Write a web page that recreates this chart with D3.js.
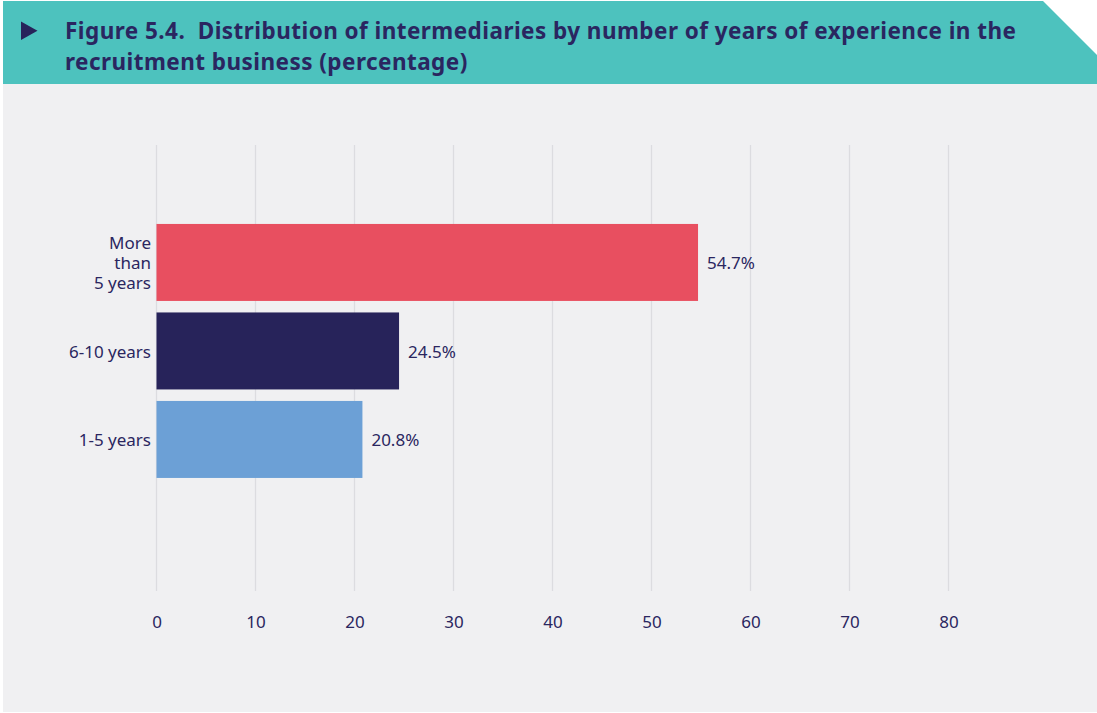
<!DOCTYPE html>
<html>
<head>
<meta charset="utf-8">
<script src="https://cdn.jsdelivr.net/npm/d3@7"></script>
<style>
  html, body { margin: 0; padding: 0; background: #ffffff; }
  svg { display: block; font-family: "Noto Sans", "Open Sans", sans-serif; }
  .title { white-space: pre; }
</style>
</head>
<body>
<svg id="chart" width="1097" height="713"></svg>
<script>
// Experience groups, top to bottom
const categories = ["More than 5 years", "6-10 years", "1-5 years"];
const categoryLines = [["More", "than", "5 years"], ["6-10 years"], ["1-5 years"]];
// Share of intermediaries (%)
const values = [54.7, 24.5, 20.8];
const barColors = ["#e84f60", "#27235a", "#6ca0d6"];
const xTicks = [0, 10, 20, 30, 40, 50, 60, 70, 80];

const titleLines = [
  "Figure 5.4.  Distribution of intermediaries by number of years of experience in the",
  "recruitment business (percentage)"
];

const svg = d3.select("#chart");
const ink = "#2a2660";
const labelSize = 17;

// Panel background
svg.append("rect").attr("x", 3).attr("y", 84).attr("width", 1094).attr("height", 628)
  .attr("fill", "#f0f0f2");

// Header band with clipped top-right corner
svg.append("path")
  .attr("d", "M3,1 L1043,1 L1097,55 L1097,84 L3,84 Z")
  .attr("fill", "#4dc2be");
svg.append("path")
  .attr("d", "M21,21.5 L37.5,30.8 L21,40 Z")
  .attr("fill", "#27235a");
svg.append("g").selectAll("text").data(titleLines).join("text")
  .attr("class", "title")
  .attr("x", 65)
  .attr("y", (d, i) => 38.5 + i * 31)
  .attr("fill", ink)
  .attr("font-size", 22.5)
  .attr("font-weight", 700)
  .attr("letter-spacing", 0.45)
  .text(d => d);

// Scales
const x = d3.scaleLinear().domain([0, 80]).range([156.5, 948.5]);
const y = d3.scaleBand().domain(categories).range([218.2, 483.7])
  .paddingInner(0.13).paddingOuter(0.065);

// Vertical grid lines
svg.append("g").selectAll("line").data(xTicks).join("line")
  .attr("x1", d => x(d)).attr("x2", d => x(d))
  .attr("y1", 145).attr("y2", 591)
  .attr("stroke", "#dcdce0").attr("stroke-width", 1.3);

// X axis tick labels
const xAxis = d3.axisBottom(x).tickValues(xTicks).tickSize(0).tickPadding(0);
const gx = svg.append("g").attr("transform", "translate(0,616)").call(xAxis);
gx.select(".domain").remove();
gx.selectAll("text")
  .attr("font-family", "'Noto Sans', 'Open Sans', sans-serif")
  .attr("font-size", labelSize).attr("fill", ink);

// Bars
svg.append("g").selectAll("rect").data(values).join("rect")
  .attr("x", x(0))
  .attr("y", (d, i) => y(categories[i]))
  .attr("width", d => x(d) - x(0))
  .attr("height", y.bandwidth())
  .attr("fill", (d, i) => barColors[i]);

// Value labels
svg.append("g").selectAll("text").data(values).join("text")
  .attr("x", d => x(d) + 9)
  .attr("y", (d, i) => y(categories[i]) + y.bandwidth() / 2 + 1)
  .attr("dy", "0.35em")
  .attr("font-size", labelSize).attr("fill", ink)
  .text(d => d.toFixed(1) + "%");

// Category labels
const catG = svg.append("g").selectAll("text").data(categories).join("text")
  .attr("text-anchor", "end")
  .attr("font-size", labelSize).attr("fill", ink);
catG.each(function(c, i) {
  const lines = categoryLines[i];
  const cy = y(c) + y.bandwidth() / 2 + 1;
  d3.select(this).selectAll("tspan").data(lines).join("tspan")
    .attr("x", 151)
    .attr("y", (d, j) => cy + (j - (lines.length - 1) / 2) * 20)
    .attr("dy", "0.35em")
    .text(d => d);
});
</script>
</body>
</html>
